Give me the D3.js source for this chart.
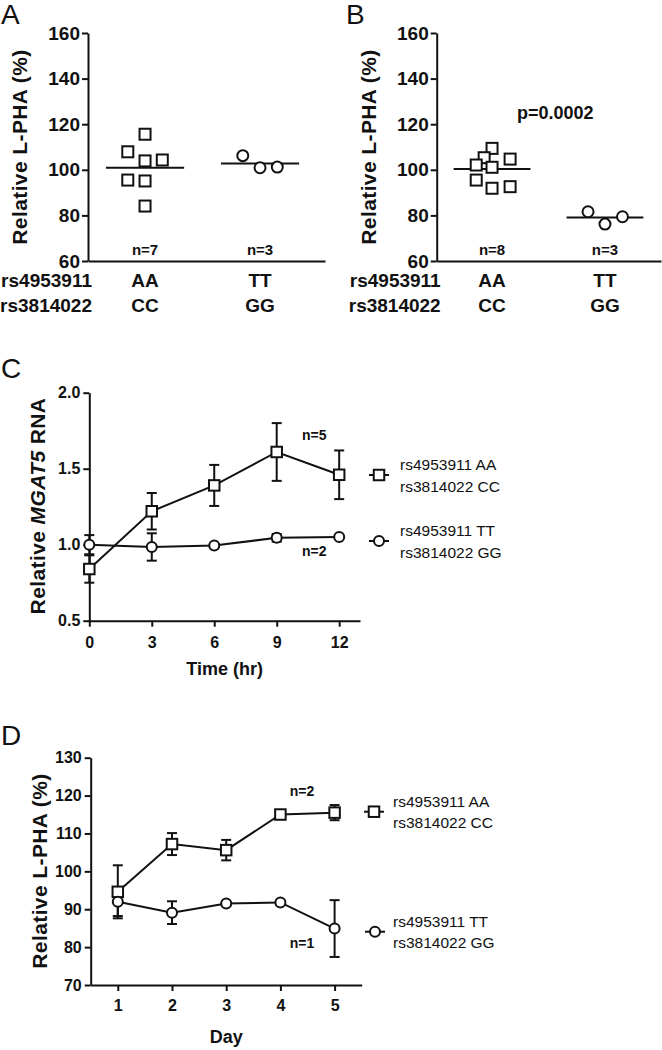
<!DOCTYPE html>
<html>
<head>
<meta charset="utf-8">
<script src="https://cdn.jsdelivr.net/npm/d3@7"></script>
<style>
  body { margin: 0; background: #fff; }
  svg { display: block; font-family: 'Liberation Sans', Arial, Helvetica, sans-serif; }
  .axis path, .axis line { stroke: #111; stroke-width: 2; }
  .axis text { fill: #111; font-weight: bold; }
</style>
</head>
<body>
<div id="chart"></div>
<script>
// ---- data ----
const snpNames = ['rs4953911', 'rs3814022'];
const genoTop = ['AA', 'TT'];
const genoBottom = ['CC', 'GG'];

// panel A: relative L-PHA (%) per cell line
const aAA = [115.6, 107.9, 103.9, 104.3, 95.5, 95.1, 84.1];
const aAAJitter = [0, -0.15, 0, 0.15, -0.15, 0, 0];
const aTT = [106.2, 100.9, 101.2];
const aTTJitter = [-0.15, 0, 0.15];
const aCounts = ['n=7', 'n=3'];

// panel B
const bAA = [109.4, 105.3, 102.1, 101.1, 104.7, 95.5, 91.9, 92.6];
const bAAJitter = [0, -0.07, -0.14, 0, 0.16, -0.14, 0, 0.16];
const bTT = [81.6, 76.2, 79.4];
const bTTJitter = [-0.15, 0, 0.155];
const bCounts = ['n=8', 'n=3'];
const bPValue = 'p=0.0002';

const abTicks = [60, 80, 100, 120, 140, 160];

// panel C: relative MGAT5 RNA over time
const cTime = [0, 3, 6, 9, 12];
const cAAMean = [0.84, 1.22, 1.39, 1.61, 1.46];
const cAAErr = [0.09, 0.12, 0.135, 0.19, 0.16];
const cTTMean = [1.0, 0.985, 0.995, 1.045, 1.05];
const cTTErr = [0.063, 0.09, 0.01, 0.025, 0.01];
const cTicksY = [0.5, 1.0, 1.5, 2.0];

// panel D: relative L-PHA (%) over days
const dDay = [1, 2, 3, 4, 5];
const dAAMean = [94.6, 107.2, 105.6, 115.0, 115.5];
const dAAErr = [7.0, 2.9, 2.7, 0.8, 2.0];
const dTTMean = [92.0, 89.1, 91.5, 91.8, 84.9];
const dTTErr = [3.8, 3.0, 0.5, 0.5, 7.5];
const dTicksY = [70, 80, 90, 100, 110, 120, 130];

const legendLabels = [['rs4953911 AA', 'rs3814022 CC'], ['rs4953911 TT', 'rs3814022 GG']];

// ---- drawing ----
const width = 662;
const height = 1050;

const svg = d3
  .select('#chart')
  .append('svg')
  .attr('width', width)
  .attr('height', height);

svg.append('rect').attr('width', width).attr('height', height).attr('fill', '#fff');

const panelLetter = (x, y, letter) => {
  svg
    .append('text')
    .attr('x', x)
    .attr('y', y)
    .attr('font-size', 28)
    .attr('fill', '#111')
    .text(letter);
};

const yTitle = (x, y, parts) => {
  const t = svg
    .append('text')
    .attr('transform', `translate(${x},${y}) rotate(-90)`)
    .attr('text-anchor', 'middle')
    .attr('font-size', 21)
    .attr('font-weight', 'bold')
    .attr('letter-spacing', 0.4)
    .attr('fill', '#111');
  parts.forEach((p) => {
    t.append('tspan').attr('font-style', p.italic ? 'italic' : 'normal').text(p.text);
  });
};

const drawSquare = (g, x, y, size) => {
  g.append('rect')
    .attr('x', x - size / 2)
    .attr('y', y - size / 2)
    .attr('width', size)
    .attr('height', size)
    .attr('fill', '#fff')
    .attr('stroke', '#111')
    .attr('stroke-width', 2);
};

const drawCircle = (g, x, y, r) => {
  g.append('circle')
    .attr('cx', x)
    .attr('cy', y)
    .attr('r', r)
    .attr('fill', '#fff')
    .attr('stroke', '#111')
    .attr('stroke-width', 2);
};

// scatter panels A and B
const scatterPanel = (opts) => {
  const { axisX, right, letterX, aa, aaJit, tt, ttJit, counts, pText } = opts;
  const top = 33;
  const bottom = 261;
  const xScale = d3.scaleLinear().domain(opts.xDomain).range([axisX, right]);
  const yScale = d3.scaleLinear().domain([60, 160]).range([bottom, top]);

  panelLetter(letterX, 24, opts.letter);

  const yAxis = d3.axisLeft(yScale).tickValues(abTicks).tickSize(6).tickSizeOuter(0).tickPadding(2);
  svg
    .append('g')
    .attr('class', 'axis')
    .attr('transform', `translate(${axisX},0)`)
    .call(yAxis)
    .selectAll('text')
    .attr('font-size', 19);

  svg
    .append('g')
    .attr('class', 'axis')
    .attr('transform', `translate(0,${bottom})`)
    .call(d3.axisBottom(xScale).tickValues([]).tickSizeOuter(0));

  yTitle(axisX - 61, (top + bottom) / 2, [{ text: 'Relative L-PHA (%)' }]);

  const g = svg.append('g');
  const half = 0.34;
  [aa, tt].forEach((vals, i) => {
    const m = d3.mean(vals);
    g.append('line')
      .attr('x1', xScale(i - half))
      .attr('x2', xScale(i + half))
      .attr('y1', yScale(m))
      .attr('y2', yScale(m))
      .attr('stroke', '#111')
      .attr('stroke-width', 2);
  });
  aa.forEach((v, i) => drawSquare(g, xScale(aaJit[i]), yScale(v), 11));
  tt.forEach((v, i) => drawCircle(g, xScale(1 + ttJit[i]), yScale(v), 5.5));

  counts.forEach((c, i) => {
    svg
      .append('text')
      .attr('x', xScale(i))
      .attr('y', 255)
      .attr('text-anchor', 'middle')
      .attr('font-size', 15)
      .attr('font-weight', 'bold')
      .attr('fill', '#111')
      .text(c);
  });

  [genoTop, genoBottom].forEach((row, r) => {
    const by = r === 0 ? 287 : 312;
    svg
      .append('text')
      .attr('x', axisX + 4)
      .attr('y', by)
      .attr('text-anchor', 'end')
      .attr('font-size', 19)
      .attr('font-weight', 'bold')
      .attr('fill', '#111')
      .text(snpNames[r]);
    row.forEach((lab, i) => {
      svg
        .append('text')
        .attr('x', xScale(i))
        .attr('y', by)
        .attr('text-anchor', 'middle')
        .attr('font-size', 19)
        .attr('font-weight', 'bold')
        .attr('fill', '#111')
        .text(lab);
    });
  });

  if (pText) {
    svg
      .append('text')
      .attr('x', xScale(0.56))
      .attr('y', 119)
      .attr('text-anchor', 'middle')
      .attr('font-size', 18)
      .attr('font-weight', 'bold')
      .attr('fill', '#111')
      .text(pText);
  }
};

scatterPanel({
  letter: 'A', letterX: 1, axisX: 88, right: 325, xDomain: [-0.496, 1.565],
  aa: aAA, aaJit: aAAJitter, tt: aTT, ttJit: aTTJitter, counts: aCounts
});

scatterPanel({
  letter: 'B', letterX: 346, axisX: 436.7, right: 661, xDomain: [-0.49, 1.496],
  aa: bAA, aaJit: bAAJitter, tt: bTT, ttJit: bTTJitter, counts: bCounts, pText: bPValue
});

// line panels C and D
const linePanel = (opts) => {
  const { x0, x1, y0, y1, xDomain, yDomain, xTicks, yTicks, yFormat, xTitle, xTitleY, titleParts, titleY } = opts;
  const xScale = d3.scaleLinear().domain(xDomain).range([x0, x1]);
  const yScale = d3.scaleLinear().domain(yDomain).range([y0, y1]);

  panelLetter(1, opts.letterY, opts.letter);

  const yAxis = d3.axisLeft(yScale).tickValues(yTicks).tickFormat(yFormat).tickSize(6).tickSizeOuter(0).tickPadding(3);
  svg
    .append('g')
    .attr('class', 'axis')
    .attr('transform', `translate(${x0},0)`)
    .call(yAxis)
    .selectAll('text')
    .attr('font-size', 16);

  const xAxis = d3.axisBottom(xScale).tickValues(xTicks).tickFormat(d3.format('d')).tickSize(6).tickSizeOuter(0).tickPadding(opts.xPad);
  svg
    .append('g')
    .attr('class', 'axis')
    .attr('transform', `translate(0,${y0})`)
    .call(xAxis)
    .selectAll('text')
    .attr('font-size', 16);

  svg
    .append('text')
    .attr('x', (x0 + x1) / 2)
    .attr('y', xTitleY)
    .attr('text-anchor', 'middle')
    .attr('font-size', 18)
    .attr('font-weight', 'bold')
    .attr('fill', '#111')
    .text(xTitle);

  yTitle(x0 - 44, titleY, titleParts);

  const line = d3
    .line()
    .x((d) => xScale(d.x))
    .y((d) => yScale(d.y));

  const g = svg.append('g');
  const series = [
    { xs: opts.xs, m: opts.aaMean, e: opts.aaErr, shape: 'square' },
    { xs: opts.xs, m: opts.ttMean, e: opts.ttErr, shape: 'circle' }
  ];

  series.forEach((s) => {
    const pts = s.xs.map((x, i) => ({ x: x, y: s.m[i], e: s.e[i] }));
    g.append('path')
      .datum(pts)
      .attr('fill', 'none')
      .attr('stroke', '#111')
      .attr('stroke-width', 2)
      .attr('d', line);
    pts.forEach((p) => {
      const cx = xScale(p.x);
      const yt = yScale(p.y + p.e);
      const yb = yScale(p.y - p.e);
      g.append('line').attr('x1', cx).attr('x2', cx).attr('y1', yt).attr('y2', yb).attr('stroke', '#111').attr('stroke-width', 2);
      [yt, yb].forEach((yy) => {
        g.append('line').attr('x1', cx - 5).attr('x2', cx + 5).attr('y1', yy).attr('y2', yy).attr('stroke', '#111').attr('stroke-width', 2);
      });
    });
  });
  series.forEach((s) => {
    s.xs.forEach((x, i) => {
      if (s.shape === 'square') drawSquare(g, xScale(x), yScale(s.m[i]), 10.5);
      else drawCircle(g, xScale(x), yScale(s.m[i]), 5);
    });
  });

  // n labels
  opts.nLabels.forEach((n) => {
    svg
      .append('text')
      .attr('x', xScale(n.x))
      .attr('y', yScale(n.y))
      .attr('text-anchor', 'middle')
      .attr('font-size', 14)
      .attr('font-weight', 'bold')
      .attr('fill', '#111')
      .text(n.text);
  });

  // legend
  opts.legend.forEach((lg, i) => {
    const ly = lg.y;
    svg.append('line')
      .attr('x1', lg.x - 10)
      .attr('x2', lg.x + 10)
      .attr('y1', ly)
      .attr('y2', ly)
      .attr('stroke', '#111')
      .attr('stroke-width', 2);
    if (i === 0) drawSquare(svg, lg.x, ly, 10.5);
    else drawCircle(svg, lg.x, ly, 5);
    legendLabels[i].forEach((txt, k) => {
      svg
        .append('text')
        .attr('x', lg.tx)
        .attr('y', ly - 5 + k * 21.7)
        .attr('font-size', 15.5)
        .attr('fill', '#111')
        .text(txt);
    });
  });
};

linePanel({
  letter: 'C', letterY: 378,
  x0: 89.3, x1: 360, y0: 620.7, y1: 392.7,
  xDomain: [0, 13], yDomain: [0.5, 2.0],
  xTicks: cTime, yTicks: cTicksY, yFormat: d3.format('.1f'), xPad: 10,
  xTitle: 'Time (hr)', xTitleY: 675,
  titleParts: [{ text: 'Relative ' }, { text: 'MGAT5', italic: true }, { text: ' RNA' }], titleY: 506,
  xs: cTime, aaMean: cAAMean, aaErr: cAAErr, ttMean: cTTMean, ttErr: cTTErr,
  nLabels: [{ x: 10.8, y: 1.69, text: 'n=5' }, { x: 10.8, y: 0.925, text: 'n=2' }],
  legend: [{ x: 379, y: 475, tx: 400 }, { x: 379, y: 541, tx: 400 }]
});

linePanel({
  letter: 'D', letterY: 745,
  x0: 90.7, x1: 361.7, y0: 985, y1: 757.7,
  xDomain: [0.5, 5.5], yDomain: [70, 130],
  xTicks: dDay, yTicks: dTicksY, yFormat: d3.format('d'), xPad: 9,
  xTitle: 'Day', xTitleY: 1043,
  titleParts: [{ text: 'Relative L-PHA (%)' }], titleY: 871,
  xs: dDay, aaMean: dAAMean, aaErr: dAAErr, ttMean: dTTMean, ttErr: dTTErr,
  nLabels: [{ x: 4.4, y: 119.8, text: 'n=2' }, { x: 4.4, y: 79.8, text: 'n=1' }],
  legend: [{ x: 374, y: 811.7, tx: 393 }, { x: 375, y: 931.7, tx: 393 }]
});
</script>
</body>
</html>
